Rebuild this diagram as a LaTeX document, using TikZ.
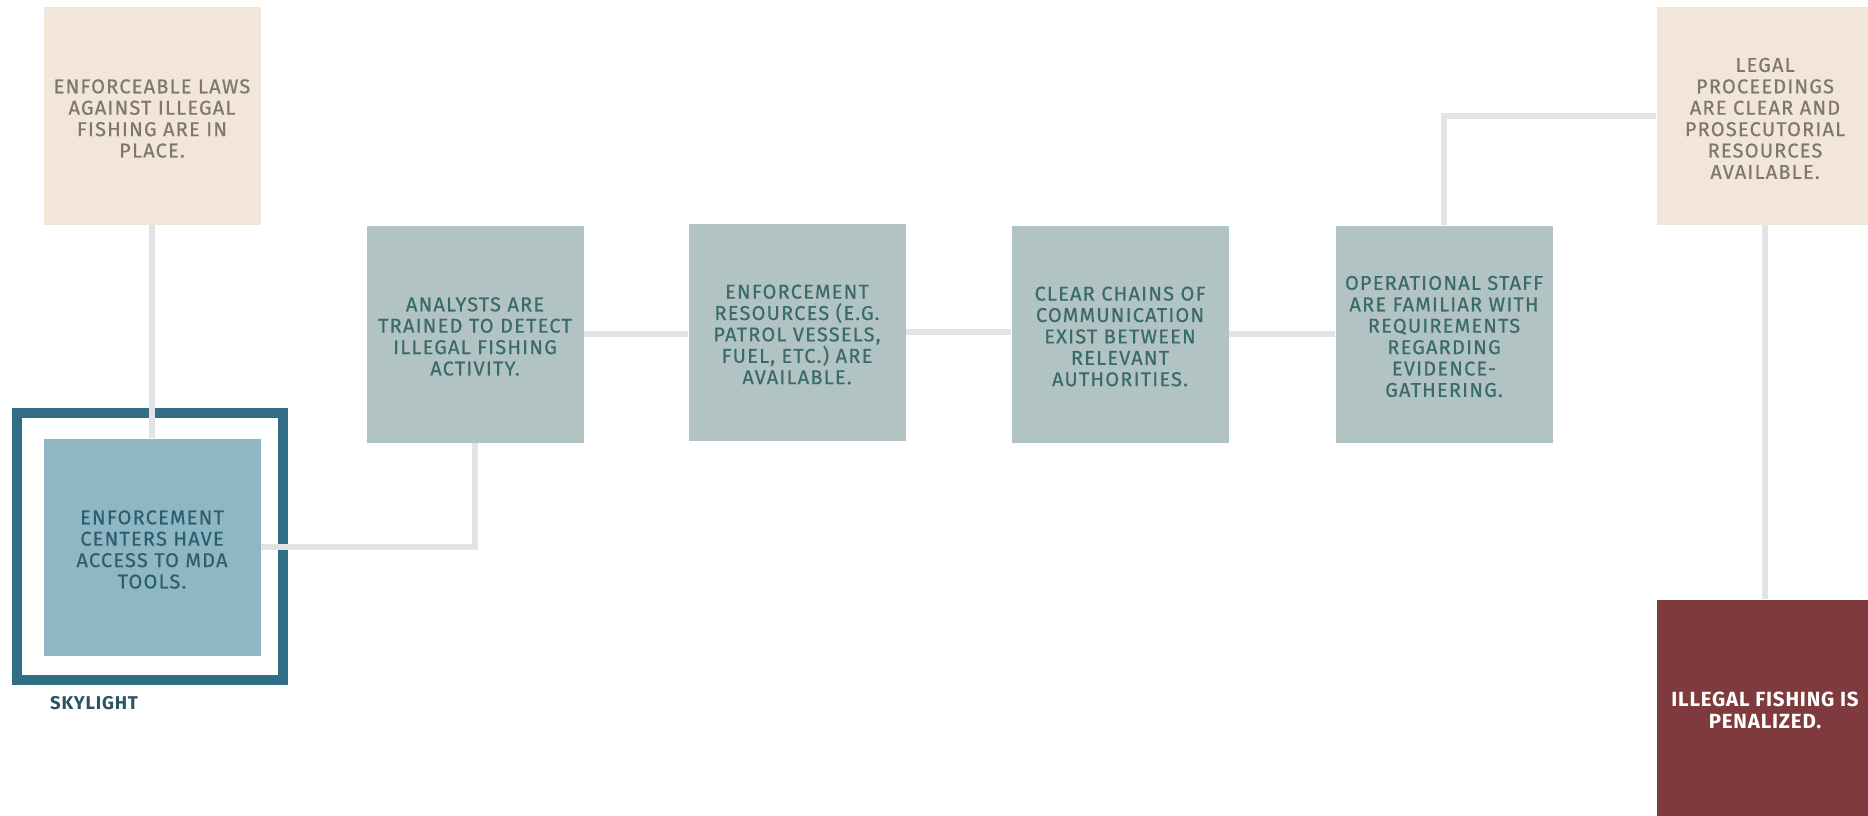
\documentclass[tikz,border=0pt]{standalone}
\usepackage{fontspec}
\setmainfont{Fira Sans}[LetterSpace=6,FakeBold=0.5]
\newfontfamily\boldsp{Fira Sans Bold}[LetterSpace=4]
\definecolor{beige}{HTML}{F2E6DA}
\definecolor{beigetxt}{HTML}{7E766F}
\definecolor{sage}{HTML}{B1C4C3}
\definecolor{sagetxt}{HTML}{3A6A6C}
\definecolor{mdafill}{HTML}{8FB6C3}
\definecolor{mdatxt}{HTML}{2D5D71}
\definecolor{framecol}{HTML}{2F6E86}
\definecolor{penfill}{HTML}{7F3A3E}
\definecolor{skytxt}{HTML}{2A5367}
\definecolor{linkcol}{HTML}{E3E3E3}
\newcommand{\tg}{\rule{0pt}{19pt}}
\tikzset{
  box/.style={minimum width=217pt, minimum height=217pt, inner sep=0pt, align=center,
    font=\fontsize{20}{21.4}\selectfont},
  lawbox/.style={box, fill=beige, text=beigetxt},
  sagebox/.style={box, fill=sage, text=sagetxt},
  mdabox/.style={box, fill=mdafill, text=mdatxt},
  penbox/.style={box, fill=penfill, text=white, font=\boldsp\fontsize{20.5}{21.4}\selectfont},
  link/.style={draw=linkcol, line width=6pt},
  frame/.style={draw=framecol, line width=10pt}
}
\begin{document}
\begin{tikzpicture}[x=1pt,y=-1pt]
\useasboundingbox (0,0) rectangle (1868,816);
\node[lawbox] (law) at (152,116) {\tg ENFORCEABLE LAWS\\AGAINST ILLEGAL\\FISHING ARE IN\\PLACE.};
\draw[frame] (17,413) rectangle (283,680);
\node[mdabox] (mda) at (152,547) {\tg ENFORCEMENT\\CENTERS HAVE\\ACCESS TO MDA\\TOOLS.};
\node[anchor=west, text=skytxt, inner sep=0pt, font=\boldsp\fontsize{18.5}{20}\selectfont] (sky) at (50,703) {SKYLIGHT};
\node[sagebox] (analysts) at (475,334) {\tg ANALYSTS ARE\\TRAINED TO DETECT\\ILLEGAL FISHING\\ACTIVITY.};
\node[sagebox] (resources) at (797,332) {\tg ENFORCEMENT\\RESOURCES (E.G.\\PATROL VESSELS,\\FUEL, ETC.) ARE\\AVAILABLE.};
\node[sagebox] (chains) at (1120,334) {\tg CLEAR CHAINS OF\\COMMUNICATION\\EXIST BETWEEN\\RELEVANT\\AUTHORITIES.};
\node[sagebox] (ops) at (1444,334) {\tg OPERATIONAL STAFF\\ARE FAMILIAR WITH\\REQUIREMENTS\\REGARDING\\EVIDENCE-\\GATHERING.};
\node[lawbox] (legal) at (1765,116) {\tg LEGAL\\PROCEEDINGS\\ARE CLEAR AND\\PROSECUTORIAL\\RESOURCES\\AVAILABLE.};
\node[penbox] (pen) at (1765,708) {\tg ILLEGAL FISHING IS\\PENALIZED.};
\draw[link] (law.south) -- (mda.north);
\draw[link] (mda.east) -| (analysts.south);
\draw[link] (analysts.east) -- (analysts.east -| resources.west);
\draw[link] (resources.east) -- (resources.east -| chains.west);
\draw[link] (chains.east) -- (chains.east -| ops.west);
\draw[link] (ops.north) |- (legal.west);
\draw[link] (legal.south) -- (pen.north);
\end{tikzpicture}
\end{document}
